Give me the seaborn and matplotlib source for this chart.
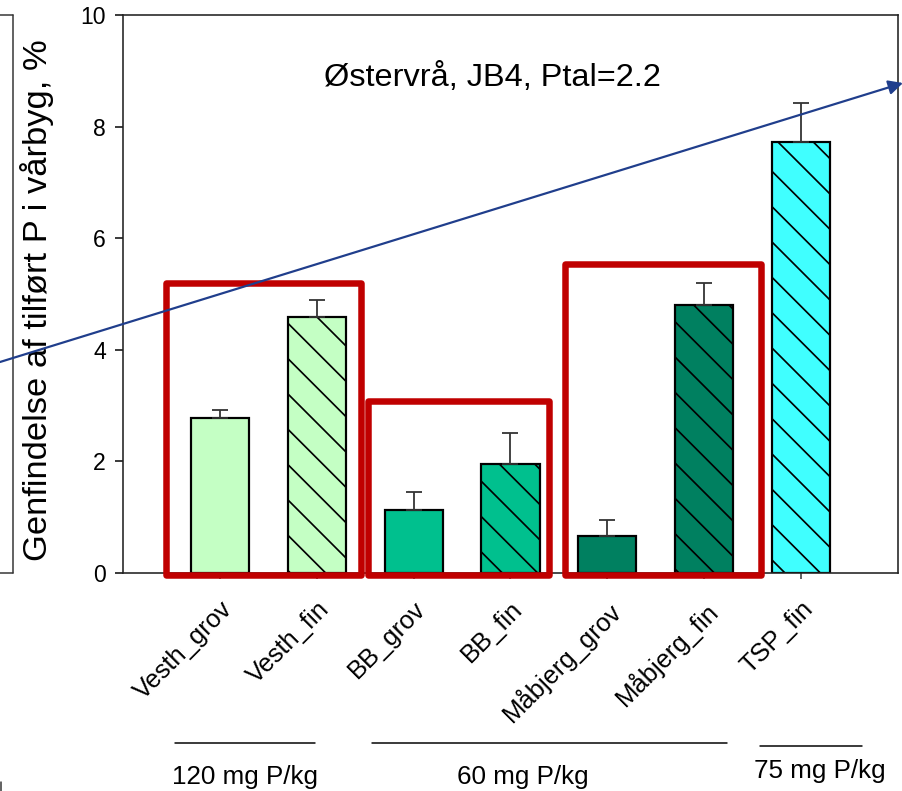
import matplotlib
matplotlib.use("Agg")
import matplotlib.pyplot as plt
from matplotlib.patches import Rectangle, FancyArrowPatch
from matplotlib.lines import Line2D
import seaborn as sns
import pandas as pd

# --- data -----------------------------------------------------------------
products = ["Vesth_grov", "Vesth_fin", "BB_grov", "BB_fin",
            "Måbjerg_grov", "Måbjerg_fin", "TSP_fin"]
recovery = [2.78, 4.59, 1.13, 1.95, 0.66, 4.80, 7.72]
std_err = [0.14, 0.31, 0.32, 0.56, 0.29, 0.40, 0.70]
bar_colors = ["#C4FFC4", "#C4FFC4", "#00C08E", "#00C08E",
              "#008060", "#008060", "#40FFFF"]
bar_hatches = ["", "\\\\", "", "\\\\", "", "\\\\", "\\\\"]
y_ticks = [0, 2, 4, 6, 8, 10]
dose_labels = ["120 mg P/kg", "60 mg P/kg", "75 mg P/kg"]
title_text = "Østervrå, JB4, Ptal=2.2"
y_title = "Genfindelse af tilført P i vårbyg, %"

DPI = 212
W, H = 903, 791


def pt(px):
    """pixels -> points at the figure dpi"""
    return px * 72.0 / DPI


sns.set_theme(style="white")
plt.rcParams["font.family"] = ["Liberation Sans", "DejaVu Sans"]
plt.rcParams["hatch.linewidth"] = pt(1.7)
plt.rcParams["hatch.color"] = "black"
plt.rcParams["text.color"] = "black"
plt.rcParams["xtick.color"] = "black"
plt.rcParams["ytick.color"] = "black"
plt.rcParams["xtick.labelcolor"] = "black"
plt.rcParams["ytick.labelcolor"] = "black"

fig = plt.figure(figsize=(W / DPI, H / DPI), dpi=DPI)
ax = fig.add_axes([123 / W, 1 - 573 / H, (898 - 123) / W, (573 - 15) / H])

df = pd.DataFrame({"product": products, "recovery": recovery})
sns.barplot(data=df, x="product", y="recovery", hue="product",
            palette=dict(zip(products, bar_colors)), order=products,
            hue_order=products, width=0.6, legend=False, errorbar=None,
            saturation=1, edgecolor="black", linewidth=pt(2.2), ax=ax,
            zorder=2)

for bar, h in zip(ax.patches, bar_hatches):
    bar.set_hatch(h)

ax.errorbar(range(len(products)), recovery,
            yerr=[[0] * len(std_err), std_err], fmt="none",
            ecolor="#333333", elinewidth=pt(1.8), capsize=pt(8),
            capthick=pt(1.8), zorder=3)

ax.set_xlim(-1, 7)
ax.set_ylim(0, 10)
ax.set_yticks(y_ticks)
ax.set_yticklabels([str(t) for t in y_ticks], fontsize=pt(23))
ax.set_xlabel("")
ax.set_ylabel("")
ax.set_xticks(range(len(products)))
ax.set_xticklabels(products, rotation=45, ha="right", va="top",
                   rotation_mode="anchor", fontsize=pt(25.5))
ax.tick_params(axis="y", direction="out", length=pt(8), width=pt(1.5),
               color="black", pad=pt(9), left=True)
ax.tick_params(axis="x", direction="out", length=pt(6), width=pt(1.5),
               color="#333333", pad=pt(18), bottom=True)
for s in ax.spines.values():
    s.set_visible(True)
    s.set_color("#222222")
    s.set_linewidth(pt(1.6))

ax.text(2.81, 8.87, title_text, ha="center", va="center",
        fontsize=pt(32.5))

# red group frames
red = "#C00000"
for x0, x1, y1 in [(-0.56, 1.46, 5.2), (1.53, 3.40, 3.08), (3.56, 5.59, 5.54)]:
    ax.add_patch(Rectangle((x0, -0.03), x1 - x0, y1 + 0.03, fill=False,
                           edgecolor=red, linewidth=pt(6.5),
                           joinstyle="round", zorder=4, clip_on=False))

# trend arrow across the figure
fig.add_artist(FancyArrowPatch((0, 1 - 362 / H), (1.0, 1 - 83 / H),
                               transform=fig.transFigure,
                               arrowstyle="-|>", mutation_scale=pt(30),
                               color="#203E8C", linewidth=pt(2.2),
                               shrinkA=0, shrinkB=0, zorder=5))

# y-axis title
fig.text(37 / W, 1 - 300 / H, y_title, rotation=90, ha="center",
         va="center", fontsize=pt(34.5))

# left frame edge
for xs, ys in [([13, 13], [15, 573]), ([0, 13], [573, 573]),
               ([0, 13], [15, 15]), ([1, 1], [782, 791])]:
    fig.add_artist(Line2D([x / W for x in xs], [1 - y / H for y in ys],
                          transform=fig.transFigure, color="#333333",
                          linewidth=pt(1.5)))

# dose group underlines and labels
for (xa, xb, yl), lab, (xc, yc) in zip(
        [(175, 315, 743), (372, 727, 743), (760, 862, 746)], dose_labels,
        [(245, 777), (523, 777), (820, 771)]):
    fig.add_artist(Line2D([xa / W, xb / W], [1 - yl / H, 1 - yl / H],
                          transform=fig.transFigure, color="black",
                          linewidth=pt(1.5)))
    fig.text(xc / W, 1 - yc / H, lab, ha="center", va="center",
             fontsize=pt(26))

fig.savefig("out.png", dpi=DPI)
